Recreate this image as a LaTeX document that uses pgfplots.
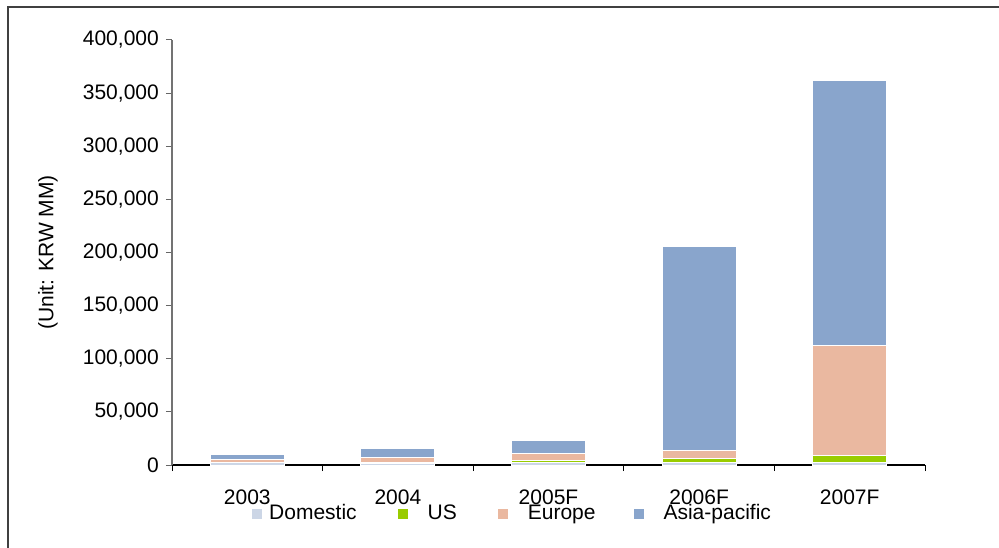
\documentclass[border=0pt]{standalone}
\usepackage{pgfplots}
\pgfplotsset{compat=1.18}
\usepackage{fontspec}
\setmainfont{Liberation Sans}
\definecolor{cDom}{RGB}{204,214,230}
\definecolor{cUS}{RGB}{153,204,0}
\definecolor{cEu}{RGB}{234,184,160}
\definecolor{cAs}{RGB}{137,165,204}
\begin{document}
\fontsize{21}{25}\selectfont
\begin{tikzpicture}
\useasboundingbox (0,0) rectangle (999pt,547pt);
\draw[line width=1.3pt, black!75] (8pt,-10pt) -- (8pt,540pt) -- (1010pt,540pt);
\begin{axis}[
  at={(172pt,82pt)}, anchor=south west,
  scale only axis, width=753pt, height=425pt,
  ybar stacked, bar width=74pt,
  ymin=0, ymax=400000,
  xmin=-0.5, xmax=4.5,
  axis lines*=left,
  x axis line style={black, line width=1.2pt, -},
  y axis line style={black!55, line width=1.2pt, -},
  xtick={0,1,2,3,4},
  xticklabels={2003,2004,2005F,2006F,2007F},
  major x tick style={draw=none},
  minor xtick={-0.5,0.5,1.5,2.5,3.5,4.5},
  minor x tick style={black, line width=1pt},
  minor tick length=6pt,
  ytick={0,50000,...,400000},
  y tick style={black!60, line width=1pt},
  major tick length=6pt,
  tick align=outside,
  tick pos=left,
  scaled y ticks=false,
  yticklabel style={/pgf/number format/.cd, fixed, precision=0, 1000 sep={,}, assume math mode=true},
  xticklabel style={yshift=-12pt},
  ylabel={(Unit: KRW MM)},
  ylabel style={at={(axis description cs:-0.1647,0.5)}, anchor=center},
  legend columns=4,
  legend style={at={(axis description cs:0.1062,-0.115)}, anchor=west, draw=none, fill=none, inner sep=0pt,
    nodes={inner sep=0pt, anchor=west},
    /tikz/column 1/.style={column sep=7pt},
    /tikz/column 2/.style={column sep=41pt},
    /tikz/column 3/.style={column sep=20pt},
    /tikz/column 4/.style={column sep=41pt},
    /tikz/column 5/.style={column sep=20pt},
    /tikz/column 6/.style={column sep=38pt},
    /tikz/column 7/.style={column sep=20pt}},
  legend image code/.code={\fill[#1,draw=none] (0pt,-5pt) rectangle (10pt,5pt);},
  every axis plot/.append style={draw=white, line width=1pt},
]
\addplot[fill=cDom] coordinates {(0,2000) (1,1500) (2,2000) (3,2000) (4,2000)};
\addplot[fill=cUS] coordinates {(0,300) (1,1300) (2,2500) (3,4500) (4,6500)};
\addplot[fill=cEu] coordinates {(0,2900) (1,4200) (2,6000) (3,7500) (4,104000)};
\addplot[fill=cAs] coordinates {(0,5000) (1,8500) (2,12500) (3,191600) (4,249000)};
\legend{Domestic,US,Europe,Asia-pacific}
\end{axis}
\end{tikzpicture}
\end{document}
